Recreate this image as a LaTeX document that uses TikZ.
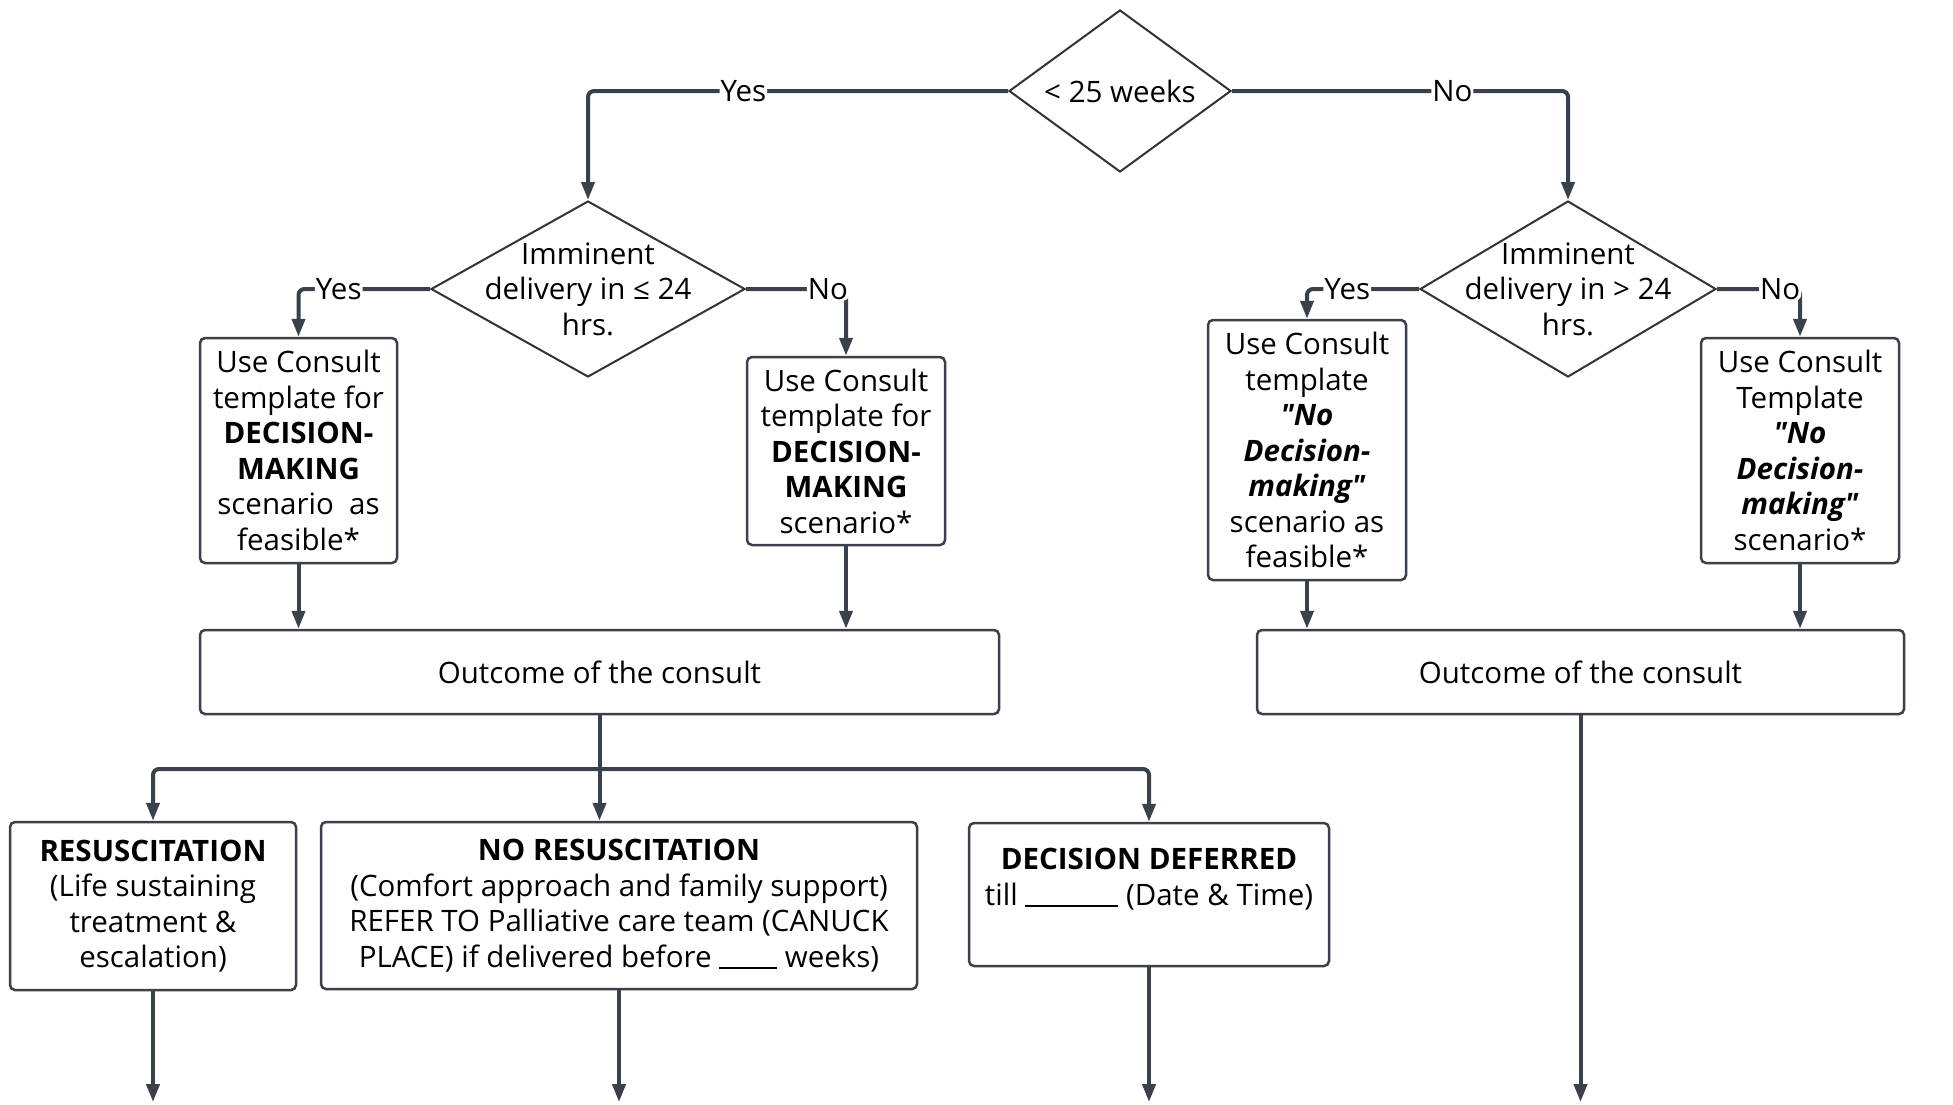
\documentclass[tikz,border=0pt]{standalone}
\usepackage{fontspec}
\setmainfont{Open Sans}[Ligatures=TeXOff]
\usetikzlibrary{shapes.geometric,arrows.meta}
\definecolor{ln}{HTML}{3B414B}
\begin{document}
\begin{tikzpicture}[x=1pt,y=-1pt,
 every node/.style={font=\fontsize{29.5}{35.5}\selectfont, text=black},
 box/.style={draw=ln, line width=2.5pt, rounded corners=5pt, align=center, inner sep=0pt},
 dia/.style={draw=black!80, line width=2pt, diamond, inner sep=0pt},
 conn/.style={draw=ln, line width=4pt, rounded corners=6pt},
 arr/.style={conn, -{Triangle[length=18pt,width=13pt]}},
 lab/.style={fill=white, inner sep=1pt}]
\fill[white] (0,0) rectangle (1953,1104);
\useasboundingbox (0,0) rectangle (1953,1104);
% diamonds
\node[dia, minimum width=222pt, minimum height=162pt] (d0) at (1120,91) {};
\node (d0t) at (d0) {< 25 weeks};
\node[dia, minimum width=314pt, minimum height=176pt] (d1) at (588,289) {};
\node[align=center] (d1t) at (d1) {Imminent\\delivery in ≤ 24\\hrs.};
\node[dia, minimum width=296pt, minimum height=176pt] (d2) at (1568,289) {};
\node[align=center] (d2t) at (d2) {Imminent\\delivery in > 24\\hrs.};
% boxes
\node[box, minimum width=197pt, minimum height=225pt] (b1) at (298.5,450.5)
 {Use Consult\\template for\\\textbf{DECISION-}\\\textbf{MAKING}\\scenario~~as\\feasible*};
\node[box, minimum width=198pt, minimum height=188pt] (b2) at (846,451)
 {Use Consult\\template for\\\textbf{DECISION-}\\\textbf{MAKING}\\scenario*};
\node[box, minimum width=198pt, minimum height=260pt] (b3) at (1307,450)
 {Use Consult\\template\\\textbf{\textit{"No}}\\\textbf{\textit{Decision-}}\\\textbf{\textit{making"}}\\scenario as\\feasible*};
\node[box, minimum width=198pt, minimum height=225pt] (b4) at (1800,450.5)
 {Use Consult\\Template\\\textbf{\textit{"No}}\\\textbf{\textit{Decision-}}\\\textbf{\textit{making"}}\\scenario*};
\node[box, minimum width=799pt, minimum height=84pt] (o1) at (599.5,672) {Outcome of the consult};
\node[box, minimum width=647pt, minimum height=84pt] (o2) at (1580.5,672) {Outcome of the consult};
\node[box, minimum width=286pt, minimum height=168pt] (r1) at (153,906)
 {\textbf{RESUSCITATION}\\(Life sustaining\\treatment \&\\escalation)};
\node[box, minimum width=596pt, minimum height=167pt] (nr) at (619,905.5)
 {\textbf{NO RESUSCITATION}\\(Comfort approach and family support)\\REFER TO Palliative care team (CANUCK\\PLACE) if delivered before \rule[-2pt]{58pt}{2pt} weeks)};
\node[box, minimum width=360pt, minimum height=143pt] (dd) at (1149,894.5)
 {\textbf{DECISION DEFERRED}\\till \rule[-2pt]{93pt}{2pt} (Date \& Time)\\\mbox{}};
% connectors
\draw[arr] (d0.west) -| node[lab,pos=0.315]{Yes} (d1.north);
\draw[arr] (d0.east) -| node[lab,pos=0.328]{No} (d2.north);
\draw[arr] (d1.west) -| node[lab,pos=0.347]{Yes} (b1.north);
\draw[arr] (d1.east) -| node[lab,pos=0.41]{No} (b2.north);
\draw[arr] (d2.west) -| node[lab,pos=0.32]{Yes} (b3.north);
\draw[arr] (d2.east) -| node[lab,pos=0.38]{No} (b4.north);
\draw[arr] (b1.south) -- (b1.south |- o1.north);
\draw[arr] (b2.south) -- (b2.south |- o1.north);
\draw[arr] (b3.south) -- (b3.south |- o2.north);
\draw[arr] (b4.south) -- (b4.south |- o2.north);
\coordinate (lv) at (0,769);
\coordinate (br) at (o1.south |- lv);
\coordinate (bot) at (0,1102);
\draw[conn] (o1.south) -- (br);
\draw[arr] (br) -| (r1.north);
\draw[arr] (br) -| (dd.north);
\draw[arr] (br) -- (br |- nr.north);
\draw[arr] (r1.south) -- (r1.south |- bot);
\draw[arr] (nr.south) -- (nr.south |- bot);
\draw[arr] (dd.south) -- (dd.south |- bot);
\draw[arr] (o2.south) -- (o2.south |- bot);
\end{tikzpicture}
\end{document}
